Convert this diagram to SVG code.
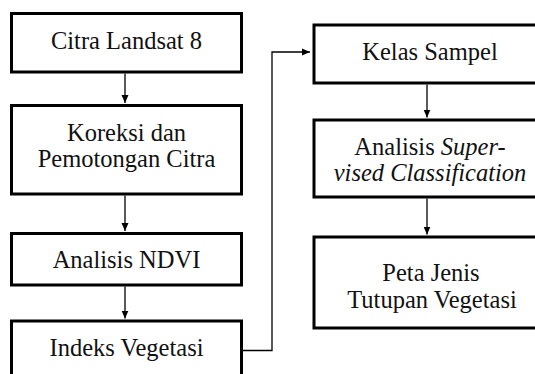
<svg xmlns="http://www.w3.org/2000/svg" width="535" height="374" viewBox="0 0 535 374">
<defs>
<marker id="ah" markerWidth="9" markerHeight="9" refX="8" refY="4.5" orient="auto" markerUnits="userSpaceOnUse">
<path d="M0,1 L8,4.5 L0,8 Z" fill="#000"/>
</marker>
</defs>
<style>
.box{fill:#fff;stroke:#000;stroke-width:3}
text{font-family:'Liberation Serif','Times New Roman',serif;font-size:24.5px;fill:#111;text-anchor:middle}
.c{fill:none;stroke:#000;stroke-width:1.3}
</style>
<rect width="535" height="374" fill="#fff"/>
<g id="n1"><rect class="box" x="11.5" y="13.5" width="230" height="58.5"/><text x="126.5" y="49">Citra Landsat 8</text></g>
<g id="n2"><rect class="box" x="11.5" y="105.5" width="230" height="88.5"/><text x="126.5" y="140.5">Koreksi dan</text><text x="126.5" y="167">Pemotongan Citra</text></g>
<g id="n3"><rect class="box" x="11.5" y="233.5" width="230" height="51.5"/><text x="126.5" y="268">Analisis NDVI</text></g>
<g id="n4"><rect class="box" x="11.5" y="321" width="230" height="70"/><text x="126.5" y="356">Indeks Vegetasi</text></g>
<g id="n5"><rect class="box" x="314" y="25" width="232" height="58"/><text x="430" y="60">Kelas Sampel</text></g>
<g id="n6"><rect class="box" x="314" y="120" width="232" height="77"/><text x="430" y="154.5">Analisis <tspan font-style="italic">Super-</tspan></text><text x="430" y="180.5" font-style="italic" font-size="24">vised Classification</text></g>
<g id="n7"><rect class="box" x="314" y="237" width="232" height="91"/><text x="431" y="281">Peta Jenis</text><text x="432" y="307.5">Tutupan Vegetasi</text></g>
<g id="connectors">
<path class="c" d="M125,73.5 V103" marker-end="url(#ah)"/>
<path class="c" d="M125,195.5 V231" marker-end="url(#ah)"/>
<path class="c" d="M125,286.5 V318.5" marker-end="url(#ah)"/>
<path class="c" d="M243,350.5 H272 V52 H310" marker-end="url(#ah)"/>
<path class="c" d="M427,84.5 V117.5" marker-end="url(#ah)"/>
<path class="c" d="M427,198.5 V234.5" marker-end="url(#ah)"/>
</g>
</svg>
